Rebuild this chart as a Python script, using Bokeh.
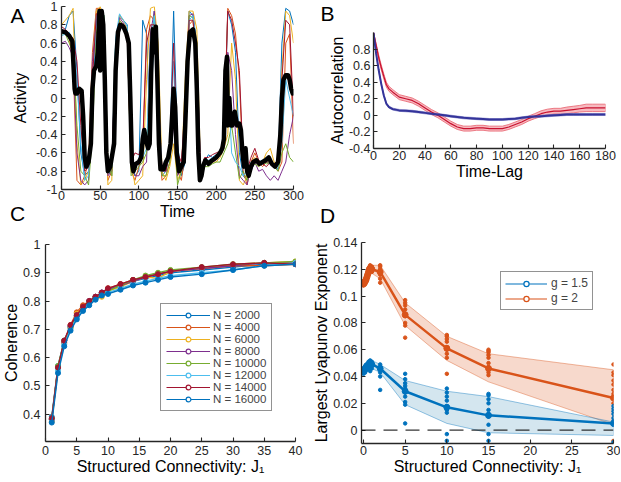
import math
from bokeh.plotting import figure
from bokeh.models import (Range1d, FixedTicker, CustomJSTickFormatter,
                          Legend, LegendItem, ColumnDataSource, Span)
from bokeh.core.properties import value
from bokeh.embed import file_html
from bokeh.resources import INLINE

FONT = "Liberation Sans"
AXC = "#262626"
MC = ["#0072BD", "#D95319", "#EDB120", "#7E2F8E", "#77AC30", "#4DBEEE", "#A2142F"]

# ---------------- Panel A data ----------------
a_time = list(range(0, 301, 5))
a_trace_blue = [0.7,0.75,0.9,0.95,0.3,-0.6,-0.85,-0.8,-0.2,0.9,
    0.95,0.9,-0.8,-0.85,0.6,0.9,0.85,0.8,-0.6,-0.85,
    -0.8,0.85,0.7,-0.5,0.95,0.3,-0.85,-0.8,-0.6,0.95,
    -0.5,-0.85,-0.7,0.95,0.9,0.6,-0.85,-0.7,-0.62,-0.65,
    -0.62,-0.6,-0.5,0.95,0.8,0.5,-0.6,-0.85,-0.9,-0.8,
    -0.7,-0.72,-0.7,-0.7,-0.72,-0.75,-0.78,0.6,0.98,0.95,
    0.8]
a_trace_orange = [0.75,0.72,0.65,0.4,-0.9,-0.95,-0.85,-0.7,0.5,0.98,
    0.98,0.6,-0.9,-0.8,0.5,0.85,0.8,0.7,-0.8,-0.9,
    -0.75,-0.6,0.75,0.9,0.85,-0.4,-0.9,-0.85,-0.7,0.1,
    -0.8,-0.9,-0.6,0.8,0.85,0.3,-0.9,-0.72,-0.7,-0.68,
    -0.65,-0.6,-0.4,0.98,0.9,0.7,0.2,-0.8,-0.95,-0.7,
    -0.6,-0.7,-0.75,-0.7,-0.7,-0.75,-0.8,-0.7,0.6,0.7,
    -0.5]
a_trace_yellow = [0.8,0.85,0.9,0.98,-0.5,-0.95,-0.9,-0.8,0.3,0.95,
    1.0,0.85,-0.95,-0.9,0.4,0.9,0.85,0.75,-0.7,-0.95,
    -0.9,-0.85,0.2,0.98,1.0,0.6,-0.8,-0.9,-0.75,-0.5,
    -0.9,-0.8,0.2,0.95,0.95,0.75,-0.8,-0.7,-0.72,-0.7,
    -0.7,-0.65,-0.55,-0.4,0.6,0.2,-0.9,-0.95,-0.85,-0.7,
    -0.65,-0.75,-0.7,-0.6,-0.55,-0.7,-0.75,0.3,0.95,0.9,
    0.6]
a_trace_purple = [0.6,0.62,0.55,0.45,-0.6,-0.9,-0.95,-0.9,0.4,0.85,
    0.95,0.7,-0.85,-0.8,0.55,0.88,0.82,0.72,-0.75,-0.85,
    -0.85,-0.75,-0.7,0.7,0.95,0.1,-0.8,-0.8,-0.6,-0.3,
    -0.85,-0.75,0.0,0.9,0.92,0.5,-0.85,-0.72,-0.7,-0.7,
    -0.68,-0.62,-0.5,0.5,0.3,-0.4,-0.85,-0.9,-0.95,-0.75,
    -0.7,-0.8,-0.78,-0.85,-0.9,-0.85,-0.9,-0.8,-0.7,-0.4,
    -0.2]
a_trace_green = [0.7,0.7,0.6,0.5,-0.3,-0.8,-0.85,-0.95,-0.4,0.7,
    0.95,0.9,-0.7,-0.85,0.6,0.85,0.8,0.7,-0.85,-0.8,
    -0.75,-0.7,-0.6,0.5,0.9,-0.2,-0.85,-0.85,-0.7,-0.2,
    -0.95,-0.8,-0.3,0.9,0.88,0.4,-0.9,-0.75,-0.75,-0.72,
    -0.7,-0.7,-0.6,-0.5,-0.3,-0.6,-0.88,-0.8,-0.9,-0.75,
    -0.72,-0.75,-0.7,-0.72,-0.7,-0.75,-0.8,-0.6,-0.5,-0.65,
    -0.7]
a_trace_cyan = [0.68,0.7,0.72,0.6,0.2,-0.5,-0.9,-0.85,0.1,0.9,
    0.9,0.85,-0.8,-0.75,0.65,0.92,0.85,0.78,-0.65,-0.75,
    -0.7,-0.65,-0.55,0.6,0.9,0.0,-0.8,-0.75,-0.65,0.4,
    -0.7,-0.75,-0.5,0.85,0.9,0.55,-0.85,-0.7,-0.68,-0.66,
    -0.66,-0.62,-0.5,0.3,-0.6,-0.7,-0.75,-0.85,-0.8,-0.7,
    -0.68,-0.7,-0.68,-0.65,-0.68,-0.72,-0.75,-0.5,0.2,0.0,
    -0.2]
a_trace_darkred = [0.78,0.75,0.7,0.65,0.4,-0.3,-0.8,-0.75,0.2,0.92,
    0.95,0.8,-0.75,-0.7,0.5,0.82,0.8,0.65,-0.7,-0.6,
    -0.62,-0.5,0.6,0.8,0.8,-0.3,-0.75,-0.8,-0.55,0.6,
    -0.6,-0.7,-0.2,0.85,0.85,0.45,-0.8,-0.65,-0.65,-0.62,
    -0.6,-0.58,-0.45,0.95,0.85,0.6,0.3,-0.7,-0.8,-0.65,
    -0.55,-0.68,-0.72,-0.75,-0.7,-0.72,-0.7,0.2,0.85,0.8,
    -0.2]
a_traces = [a_trace_blue, a_trace_orange, a_trace_yellow, a_trace_purple,
            a_trace_green, a_trace_cyan, a_trace_darkred]

a_mean_t = [0,5,10,14,17,18,20,23,26,28,30,32,35,38,40,42,45,47,49,50,
    52,54,56,58,60,63,66,68,70,73,76,80,84,87,89,91,93,96,100,103,
    105,107,109,112,114,116,118,120,122,124,126,128,132,135,138,141,143,145,147,149,
    152,155,158,160,163,166,170,173,175,177,179,181,183,186,190,195,200,205,208,210,
    212,214,215,217,219,221,224,227,230,232,234,236,238,240,242,245,248,252,256,260,
    264,268,272,276,280,283,285,287,290,293,295,297,299,300]
a_mean_v = [0.73,0.72,0.68,0.62,0.1,0.05,0.05,0.1,0.08,-0.2,-0.65,-0.75,-0.7,-0.5,0.1,0.3,0.35,0.5,0.95,0.3,
    0.95,0.8,0.2,-0.6,-0.8,-0.75,-0.6,-0.5,0.3,0.72,0.8,0.78,0.7,0.6,0.0,-0.7,-0.8,-0.72,-0.7,-0.65,
    -0.45,-0.35,-0.45,-0.55,-0.5,0.3,0.75,0.5,0.78,0.2,-0.5,-0.78,-0.78,-0.7,-0.65,-0.5,-0.2,0.1,-0.1,-0.6,
    -0.8,-0.75,-0.7,-0.3,0.4,0.72,0.75,0.6,0.1,-0.6,-0.9,-0.85,-0.75,-0.68,-0.72,-0.68,-0.65,-0.6,-0.55,-0.45,
    0.3,0.45,-0.3,0.0,-0.3,-0.3,-0.15,-0.3,-0.28,-0.35,-0.6,-0.75,-0.55,-0.8,-0.85,-0.75,-0.7,-0.68,-0.72,-0.7,
    -0.68,-0.65,-0.72,-0.75,-0.7,-0.4,0.0,0.2,0.25,0.25,0.2,0.1,0.05,0.1]
a_xticks = [0, 50, 100, 150, 200, 250, 300]
a_yticks = [-1, -0.8, -0.6, -0.4, -0.2, 0, 0.2, 0.4, 0.6, 0.8, 1]

# ---------------- Panel B data ----------------
b_lag = [0,2,4,6,8,10,12,15,20,25,30,35,40,45,50,55,60,65,70,75,80,85,90,95,100,
         105,110,115,120,125,130,135,140,145,150,155,160,165,170,175,180]
b_red = [1.0,0.85,0.7,0.58,0.47,0.37,0.32,0.28,0.22,0.2,0.18,0.14,0.09,0.04,0.0,-0.05,-0.1,-0.14,-0.16,-0.16,
         -0.15,-0.15,-0.16,-0.16,-0.16,-0.14,-0.11,-0.08,-0.04,-0.01,0.02,0.04,0.05,0.05,0.06,0.07,0.08,0.09,0.09,0.09,0.09]
b_red_err = [0.0,0.02,0.03,0.03,0.03,0.03,0.03,0.03,0.03,0.03,0.03,0.03,0.03,0.03,0.03,0.03,0.03,0.03,0.03,0.03,
             0.03,0.03,0.03,0.03,0.03,0.03,0.03,0.03,0.03,0.03,0.035,0.035,0.035,0.035,0.04,0.04,0.04,0.045,0.045,0.045,0.045]
b_blue = [1.0,0.75,0.55,0.38,0.24,0.14,0.1,0.075,0.06,0.055,0.05,0.04,0.03,0.02,0.01,0.0,-0.01,-0.02,-0.03,-0.035,
          -0.04,-0.045,-0.05,-0.05,-0.05,-0.045,-0.04,-0.03,-0.02,-0.015,-0.01,-0.005,0.0,0.005,0.01,0.01,0.01,0.01,0.01,0.01,0.01]
b_blue_err = [0.0,0.01,0.012,0.012,0.012,0.012,0.012,0.012,0.012,0.012,0.012,0.012,0.012,0.012,0.012,0.012,0.012,0.012,0.012,0.012,
              0.012,0.012,0.012,0.012,0.012,0.012,0.012,0.012,0.012,0.012,0.012,0.012,0.012,0.012,0.012,0.012,0.012,0.012,0.012,0.012,0.012]
b_xticks = [0, 20, 40, 60, 80, 100, 120, 140, 160, 180]
b_yticks = [-0.4, -0.2, 0, 0.2, 0.4, 0.6, 0.8]

# ---------------- Panel C data ----------------
c_j1 = [1,2,3,4,5,6,7,8,9,10,12,14,16,18,20,25,30,35,40]
c_labels = ["N = 2000", "N = 4000", "N = 6000", "N = 8000",
            "N = 10000", "N = 12000", "N = 14000", "N = 16000"]
c_n2000 = [0.39,0.57,0.66,0.71,0.75,0.78,0.80,0.815,0.83,0.84,0.855,0.87,0.88,0.89,0.90,0.91,0.92,0.93,0.935]
c_n4000 = [0.38,0.565,0.655,0.715,0.76,0.785,0.80,0.815,0.82,0.845,0.86,0.875,0.885,0.895,0.905,0.915,0.925,0.925,0.93]
c_n6000 = [0.375,0.56,0.65,0.705,0.755,0.78,0.795,0.81,0.815,0.835,0.85,0.87,0.885,0.88,0.905,0.915,0.93,0.935,0.94]
c_n8000 = [0.38,0.565,0.655,0.71,0.75,0.775,0.80,0.815,0.83,0.84,0.855,0.87,0.885,0.895,0.905,0.915,0.925,0.935,0.935]
c_n10000 = [0.385,0.57,0.66,0.705,0.745,0.775,0.795,0.81,0.825,0.835,0.855,0.875,0.89,0.9,0.91,0.92,0.93,0.935,0.94]
c_n12000 = [0.38,0.555,0.645,0.70,0.74,0.77,0.79,0.805,0.82,0.83,0.845,0.86,0.87,0.88,0.89,0.9,0.91,0.925,0.935]
c_n14000 = [0.385,0.565,0.66,0.715,0.75,0.78,0.80,0.815,0.83,0.845,0.86,0.875,0.885,0.895,0.905,0.92,0.93,0.935,0.93]
c_n16000 = [0.37,0.545,0.64,0.695,0.735,0.765,0.785,0.805,0.82,0.825,0.84,0.855,0.865,0.875,0.885,0.895,0.91,0.925,0.93]
c_series = [c_n2000, c_n4000, c_n6000, c_n8000, c_n10000, c_n12000, c_n14000, c_n16000]
c_xticks = [0, 5, 10, 15, 20, 25, 30, 35, 40]
c_yticks = [0.4, 0.5, 0.6, 0.7, 0.8, 0.9, 1]

# ---------------- Panel D data ----------------
d_j1 = [0,0.1,0.2,0.3,0.4,0.5,0.6,0.7,0.8,0.9,1.0,2,5,10,15,30]
d_g2_mean = [0.109,0.110,0.111,0.112,0.114,0.116,0.118,0.120,0.121,0.121,0.120,0.118,0.086,0.061,0.046,0.024]
d_g2_hi = [0.111,0.112,0.113,0.114,0.116,0.118,0.120,0.122,0.123,0.123,0.123,0.123,0.095,0.070,0.057,0.045]
d_g2_lo = [0.107,0.108,0.109,0.110,0.112,0.114,0.116,0.118,0.119,0.119,0.117,0.113,0.078,0.052,0.036,0.004]
d_g15_mean = [0.044,0.045,0.046,0.047,0.048,0.048,0.049,0.049,0.050,0.049,0.049,0.046,0.029,0.017,0.011,0.005]
d_g15_hi = [0.046,0.047,0.048,0.049,0.050,0.051,0.052,0.052,0.053,0.052,0.052,0.049,0.037,0.029,0.025,0.006]
d_g15_lo = [0.042,0.043,0.044,0.045,0.046,0.046,0.046,0.046,0.047,0.046,0.046,0.043,0.019,0.005,-0.002,-0.004]
d_g2_dot_x = [0,0,0,0.2,0.2,0.2,0.4,0.4,0.4,0.6,0.6,0.6,0.8,0.8,0.8,1,1,1,
              2,2,2,2,2,2,2, 5,5,5,5,5,5,5,5,5, 10,10,10,10,10,10,10,10,10,10,
              15,15,15,15,15,15,15,15,15,15, 30,30,30,30,30,30,30,30,30,30]
d_g2_dot_y = [0.108,0.110,0.111,0.109,0.112,0.113,0.112,0.115,0.116,0.116,0.118,0.120,0.119,0.121,0.123,0.118,0.121,0.122,
              0.110,0.113,0.116,0.118,0.120,0.122,0.123,
              0.069,0.078,0.080,0.085,0.087,0.090,0.093,0.095,0.097,
              0.042,0.054,0.057,0.060,0.061,0.062,0.066,0.068,0.070,0.071,
              0.041,0.043,0.045,0.047,0.050,0.054,0.056,0.058,0.059,0.060,
              -0.008,0.020,0.024,0.027,0.030,0.034,0.037,0.041,0.043,0.049]
d_g15_dot_x = [0,0,0,0.2,0.2,0.2,0.4,0.4,0.4,0.6,0.6,0.6,0.8,0.8,0.8,1,1,1,
               2,2,2,2,2,2, 5,5,5,5,5,5,5,5,5,5, 10,10,10,10,10,10,10,10,10,10,
               15,15,15,15,15,15,15,15,15,15,15, 30,30,30,30,30,30,30,30,30,30]
d_g15_dot_y = [0.042,0.044,0.046,0.043,0.045,0.047,0.045,0.047,0.049,0.046,0.049,0.051,0.044,0.050,0.052,0.046,0.049,0.051,
               0.030,0.040,0.043,0.045,0.047,0.049,
               0.005,0.019,0.021,0.025,0.028,0.031,0.033,0.035,0.038,0.042,
               -0.008,-0.003,0.013,0.015,0.016,0.018,0.022,0.025,0.028,0.031,
               -0.008,-0.003,0.004,0.010,0.011,0.012,0.015,0.020,0.023,0.026,0.027,
               -0.009,0.004,0.005,0.006,0.007,0.009,0.012,0.014,0.016,0.018]
d_labels = ["g = 1.5", "g = 2"]
d_xticks = [0, 5, 10, 15, 20, 25, 30]
d_yticks = [0, 0.02, 0.04, 0.06, 0.08, 0.1, 0.12, 0.14]

panel_letters = ["A", "B", "C", "D"]


def place(p, left, top):
    p.styles = {"position": "absolute", "left": f"{left}px", "top": f"{top}px"}


def base_fig(w, h, bl, br, bt, bb, xr, yr, xt, yt):
    p = figure(width=w, height=h, x_range=Range1d(*xr), y_range=Range1d(*yr),
               output_backend="svg", toolbar_location=None, tools="",
               min_border_left=bl, min_border_right=br,
               min_border_top=bt, min_border_bottom=bb)
    p.outline_line_color = None
    p.xgrid.visible = False
    p.ygrid.visible = False
    p.background_fill_color = "white"
    p.xaxis.ticker = FixedTicker(ticks=xt)
    p.yaxis.ticker = FixedTicker(ticks=yt)
    code = "return String(Number(tick.toFixed(3)));"
    p.xaxis.formatter = CustomJSTickFormatter(code=code)
    p.yaxis.formatter = CustomJSTickFormatter(code=code)
    for ax in p.axis:
        ax.axis_line_color = AXC
        ax.axis_line_width = 1.3
        ax.major_tick_line_color = AXC
        ax.major_tick_line_width = 1.1
        ax.major_tick_in = 4
        ax.major_tick_out = 0
        ax.minor_tick_line_color = None
        ax.major_label_text_font = FONT
        ax.major_label_text_font_size = "12.5px"
        ax.major_label_text_color = AXC
        ax.axis_label_text_font = FONT
        ax.axis_label_text_font_size = "16px"
        ax.axis_label_text_font_style = "normal"
        ax.axis_label_text_color = "black"
        ax.major_label_standoff = 3
        ax.axis_label_standoff = 0
    return p


def text_fig(txt, left, top, w, h, size):
    f = figure(width=w, height=h, x_range=Range1d(0, 1), y_range=Range1d(0, 1),
               output_backend="svg", toolbar_location=None, tools="",
               x_axis_location=None, y_axis_location=None, min_border=0)
    f.grid.visible = False
    f.outline_line_color = None
    f.background_fill_alpha = 0
    f.border_fill_alpha = 0
    f.text(x=[0.5], y=[0.5], text=[txt], text_align="center", text_baseline="middle",
           text_font=value(FONT), text_font_size=size, text_color="black")
    place(f, left, top)
    return f


# ---------------- Panel A ----------------
pA = base_fig(310, 225, 61, 17, 6, 36, (0, 300), (-1, 1), a_xticks, a_yticks)
for tr, col in zip(a_traces, MC):
    pA.line(a_time, tr, line_color=col, line_width=1)
pA.line(a_mean_t, a_mean_v, line_color="black", line_width=4.5, line_join="round")
pA.xaxis.axis_label = "Time"
pA.yaxis.axis_label = "Activity"
pA.xaxis.major_label_standoff = 1
pA.yaxis.major_label_standoff = 4
pA.yaxis.axis_label_standoff = 4
place(pA, 0, 0)

# ---------------- Panel B ----------------
pB = base_fig(311, 225, 63, 16, 32, 77, (0, 180), (-0.4, 1.0), b_xticks, b_yticks)
r_hi = [v + e for v, e in zip(b_red, b_red_err)]
r_lo = [v - e for v, e in zip(b_red, b_red_err)]
bl_hi = [v + e for v, e in zip(b_blue, b_blue_err)]
bl_lo = [v - e for v, e in zip(b_blue, b_blue_err)]
pB.patch(b_lag + b_lag[::-1], r_hi + r_lo[::-1], fill_color="#F28C96", fill_alpha=0.6,
         line_color="#E8606C", line_width=0.8)
pB.patch(b_lag + b_lag[::-1], bl_hi + bl_lo[::-1], fill_color="#8C8CD2", fill_alpha=0.55,
         line_color="#7070C0", line_width=0.6)
pB.line(b_lag, b_red, line_color="#C8102E", line_width=1.2)
pB.line(b_lag, b_blue, line_color="#34349A", line_width=2)
pB.xaxis.axis_label = "Time-Lag"
pB.yaxis.axis_label = "Autocorrelation"
pB.xaxis.major_label_standoff = 2
place(pB, 310, 0)

# ---------------- Panel C ----------------
pC = base_fig(310, 257, 40, 15, 19, 41, (0, 40), (0.303, 1.0), c_xticks, c_yticks)
c_colors = MC + [MC[0]]
legend_items = []
for ser, col, lab in zip(c_series, c_colors, c_labels):
    pC.line(c_j1, ser, line_color=col, line_width=1.4)
    pC.scatter(c_j1, ser, marker="circle", size=5, line_color=col, fill_color=col)
    dummy = ColumnDataSource(dict(x=[float("nan")], y=[float("nan")]))
    dl = pC.line("x", "y", source=dummy, line_color=col, line_width=1.2)
    ds = pC.scatter("x", "y", source=dummy, marker="circle", size=9, line_color=col,
                    fill_color="white", line_width=1.2)
    legend_items.append(LegendItem(label=lab, renderers=[dl, ds]))
legC = Legend(items=legend_items, location=(115, 30), glyph_width=44, glyph_height=12,
              label_height=12, spacing=0, padding=5, margin=0, label_standoff=3,
              label_text_font=FONT, label_text_font_size="11.5px",
              border_line_color="#262626", border_line_width=0.8,
              background_fill_color="white", background_fill_alpha=1)
pC.add_layout(legC, "center")
pC.xaxis.axis_label = "Structured Connectivity: J\u2081"
pC.yaxis.axis_label = "Coherence"
pC.xaxis.major_label_standoff = 4
pC.yaxis.major_label_standoff = 5
place(pC, 0, 225)

# ---------------- Panel D ----------------
pD = base_fig(310, 256, 49, 7, 17, 38, (-0.24, 30), (-0.01, 0.14), d_xticks, d_yticks)
BLUE, ORANGE = MC[0], MC[1]
pD.patch(d_j1 + d_j1[::-1], d_g2_hi + d_g2_lo[::-1], fill_color=ORANGE, fill_alpha=0.22,
         line_color=ORANGE, line_alpha=0.5, line_width=0.8)
pD.patch(d_j1 + d_j1[::-1], d_g15_hi + d_g15_lo[::-1], fill_color="#3C8FB4", fill_alpha=0.22,
         line_color=BLUE, line_alpha=0.5, line_width=0.8)
pD.add_layout(Span(location=0, dimension="width", line_color="black", line_width=1,
                   line_dash="14 8"))
pD.scatter(d_g2_dot_x, d_g2_dot_y, marker="circle", size=3.5, line_color=ORANGE, fill_color=ORANGE)
pD.scatter(d_g15_dot_x, d_g15_dot_y, marker="circle", size=3.5, line_color=BLUE, fill_color=BLUE)
pD.line(d_j1, d_g2_mean, line_color=ORANGE, line_width=2.5)
pD.scatter(d_j1, d_g2_mean, marker="circle", size=6, line_color=ORANGE, fill_color=ORANGE)
pD.line(d_j1, d_g15_mean, line_color=BLUE, line_width=2.5)
pD.scatter(d_j1, d_g15_mean, marker="circle", size=6, line_color=BLUE, fill_color=BLUE)
d_items = []
for col, lab in zip([BLUE, ORANGE], d_labels):
    dummy = ColumnDataSource(dict(x=[float("nan")], y=[float("nan")]))
    dl = pD.line("x", "y", source=dummy, line_color=col, line_width=1.2)
    ds = pD.scatter("x", "y", source=dummy, marker="circle", size=9, line_color=col,
                    fill_color="white", line_width=1.2)
    d_items.append(LegendItem(label=lab, renderers=[dl, ds]))
legD = Legend(items=d_items, location=(139, 133), glyph_width=42, glyph_height=13,
              label_height=13, spacing=1, padding=4, margin=0, label_standoff=4,
              label_text_font=FONT, label_text_font_size="12px",
              border_line_color="#262626", border_line_width=0.8,
              background_fill_color="white", background_fill_alpha=1)
pD.add_layout(legD, "center")
pD.xaxis.axis_label = "Structured Connectivity: J\u2081"
pD.yaxis.axis_label = "Largest Lyapunov Exponent"
pD.xaxis.major_label_standoff = 2
pD.yaxis.major_label_standoff = 4
place(pD, 310, 225)

# ---------------- Panel letters ----------------
tA = text_fig(panel_letters[0], 5, 2, 24, 26, "21px")
tB = text_fig(panel_letters[1], 315, 0, 24, 26, "21px")
tC = text_fig(panel_letters[2], 5, 200, 24, 26, "21px")
tD = text_fig(panel_letters[3], 315, 202, 24, 26, "21px")

open("out.html", "w").write(file_html([pA, pB, pC, pD, tA, tB, tC, tD], INLINE))
